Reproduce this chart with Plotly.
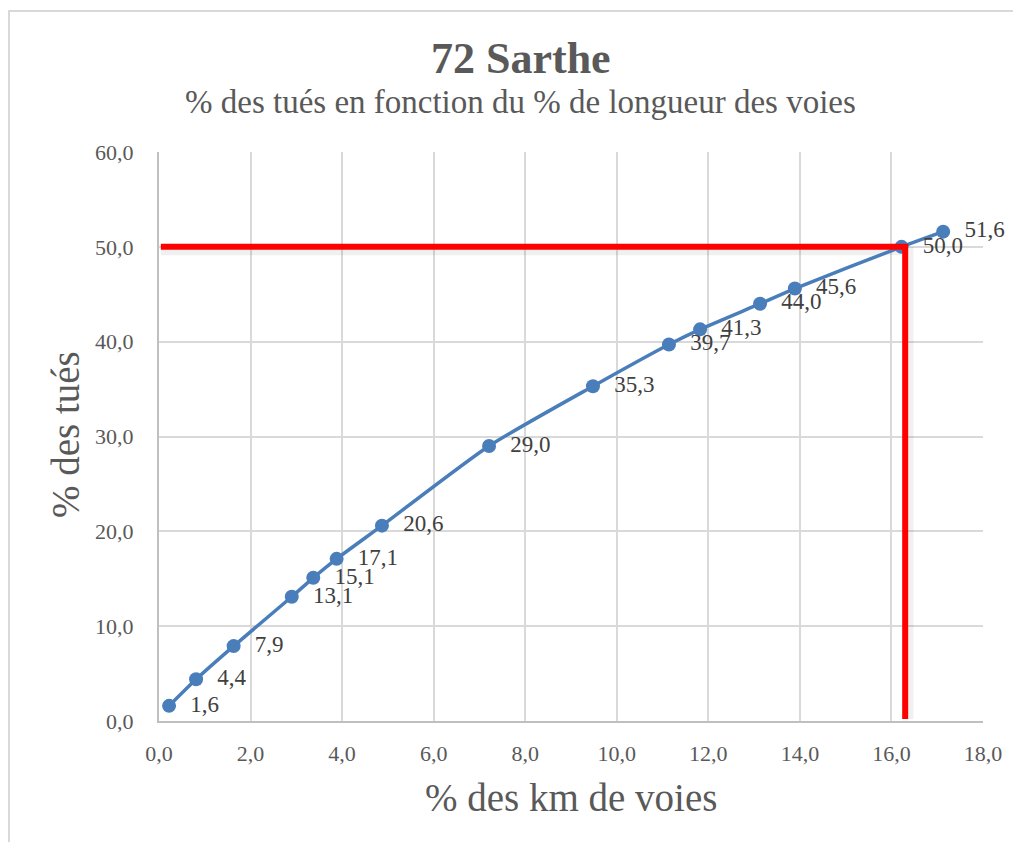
import plotly.graph_objects as go

# Data
km_pct = [0.22, 0.81, 1.63, 2.90, 3.37, 3.88, 4.87, 7.21, 9.48, 11.14, 11.82, 13.13, 13.89, 16.22, 17.13]
tues_pct = [1.6, 4.4, 7.9, 13.1, 15.1, 17.1, 20.6, 29.0, 35.3, 39.7, 41.3, 44.0, 45.6, 50.0, 51.6]

threshold_y = 50.0
threshold_x = 16.3

title_text = "72 Sarthe"
subtitle_text = "% des tués en fonction du % de longueur des voies"
x_title = "% des km de voies"
y_title = "% des tués"

FONT = "Liberation Serif"
GREY = "#595959"
BLUE = "#4a7ebb"

# page body has an 8px margin: compensate
OFF = 8
W, H = 1021 - OFF, 842 - OFF
L, R, T, B = 159 - OFF, 38, 152 - OFF, 121
PW, PH = W - L - R, H - T - B


def px_x(px):
    return (px - OFF - L) / PW


def px_y(py):
    return (H - B - (py - OFF)) / PH


fig = go.Figure()

# Red reference lines (soft shadow first)
fig.add_trace(go.Scatter(
    x=[0.04, threshold_x + 0.05], y=[threshold_y - 0.4, threshold_y - 0.4],
    mode="lines", line=dict(color="rgba(0,0,0,0.06)", width=9),
    hoverinfo="skip", showlegend=False, cliponaxis=False))
fig.add_trace(go.Scatter(
    x=[threshold_x + 0.08, threshold_x + 0.08], y=[threshold_y, 0.2],
    mode="lines", line=dict(color="rgba(0,0,0,0.06)", width=9),
    hoverinfo="skip", showlegend=False, cliponaxis=False))

fig.add_trace(go.Scatter(
    x=km_pct, y=tues_pct, mode="lines+markers+text",
    line=dict(color=BLUE, width=3.5, shape="spline", smoothing=0.6),
    marker=dict(color=BLUE, size=14),
    text=["  " + f"{v:.1f}".replace(".", ",") for v in tues_pct],
    textposition="middle right",
    textfont=dict(family=FONT, size=23, color="#404040"),
    showlegend=False, cliponaxis=False))

fig.add_trace(go.Scatter(
    x=[0.04, threshold_x + 0.05], y=[threshold_y, threshold_y],
    mode="lines", line=dict(color="#ff0000", width=6),
    hoverinfo="skip", showlegend=False, cliponaxis=False))
fig.add_trace(go.Scatter(
    x=[threshold_x, threshold_x], y=[threshold_y + 0.3, 0.2],
    mode="lines", line=dict(color="#ff0000", width=6),
    hoverinfo="skip", showlegend=False, cliponaxis=False))

axis_common = dict(
    showgrid=True, gridcolor="#d9d9d9", gridwidth=2,
    showline=True, linecolor="#bfbfbf", linewidth=2,
    ticks="", tickfont=dict(family=FONT, size=22, color=GREY),
    tickformat=".1f", zeroline=False, fixedrange=True,
)

fig.update_xaxes(range=[0, 18], dtick=2, tick0=0, ticklabelstandoff=12, **axis_common)
fig.update_yaxes(range=[0, 60], dtick=10, tick0=0, ticklabelstandoff=19, **axis_common)

fig.update_layout(
    width=W, height=H,
    margin=dict(l=L, r=R, t=T, b=B),
    paper_bgcolor="white", plot_bgcolor="white",
    separators=", ",
    font=dict(family=FONT, color=GREY),
    shapes=[dict(type="rect", xref="paper", yref="paper",
                 x0=px_x(9), x1=px_x(1040), y0=px_y(860), y1=px_y(11),
                 line=dict(color="#d9d9d9", width=2), layer="below")],
    annotations=[
        dict(text=f"<b>{title_text}</b>", xref="paper", yref="paper",
             x=px_x(521), y=px_y(58), showarrow=False, xanchor="center", yanchor="middle",
             font=dict(family=FONT, size=44, color=GREY)),
        dict(text=subtitle_text, xref="paper", yref="paper",
             x=px_x(520), y=px_y(102), showarrow=False, xanchor="center", yanchor="middle",
             font=dict(family=FONT, size=33, color=GREY)),
        dict(text=x_title, xref="paper", yref="paper",
             x=px_x(571), y=px_y(797), showarrow=False, xanchor="center", yanchor="middle",
             font=dict(family=FONT, size=39, color=GREY)),
        dict(text=y_title, xref="paper", yref="paper",
             x=px_x(65), y=px_y(435), showarrow=False, xanchor="center", yanchor="middle",
             textangle=-90, font=dict(family=FONT, size=39, color=GREY)),
    ],
)

fig.write_html("out.html")
